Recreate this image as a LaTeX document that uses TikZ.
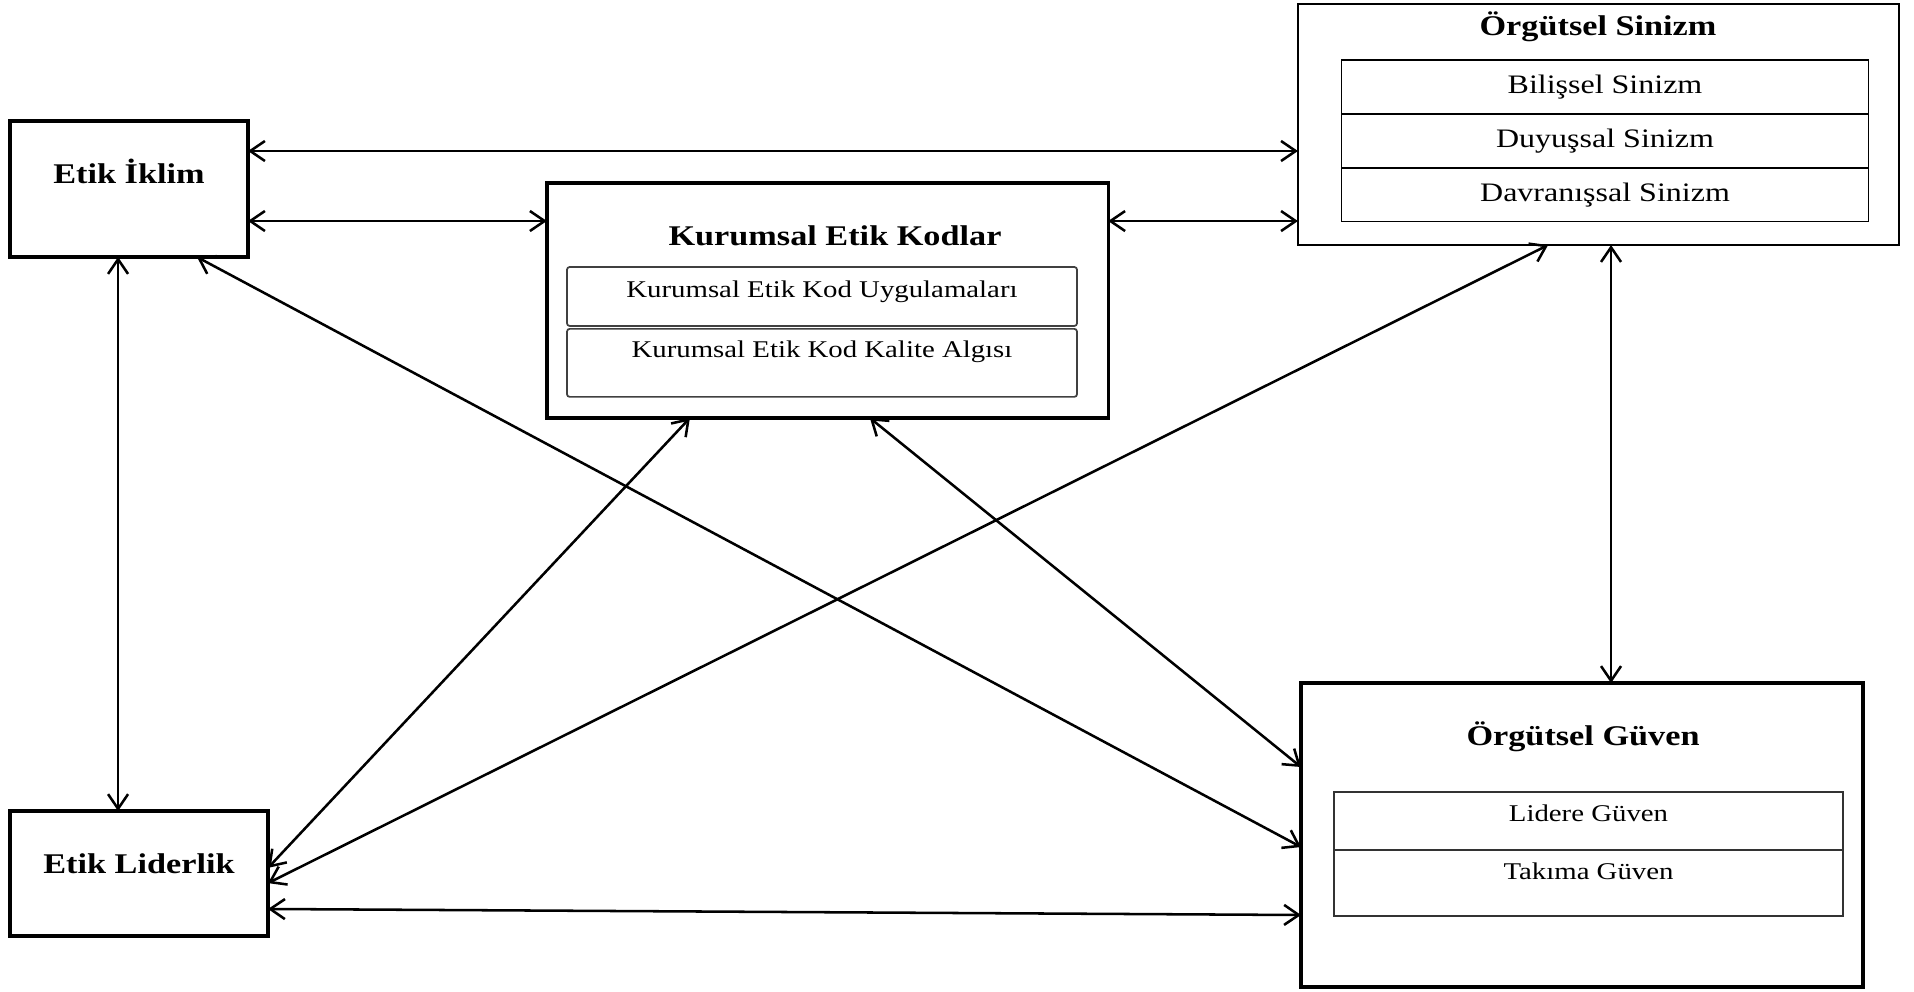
\documentclass[tikz,border=0pt]{standalone}
\usepackage{fontspec}
\setmainfont{Liberation Serif}[FakeStretch=1.2]
\usetikzlibrary{arrows.meta, positioning}

\begin{document}
\begin{tikzpicture}[
  x=0.375pt, y=-0.375pt,
  >={Straight Barb[length=5.5pt,width=7.5pt]},
  mainbox/.style={draw, line width=1.25pt, inner sep=0pt, outer sep=0pt, font=\fontsize{10.7}{13}\selectfont\bfseries},
  titletext/.style={anchor=base, inner sep=0pt, font=\fontsize{10.7}{13}\selectfont\bfseries},
  rowbox/.style={draw, line width=0.65pt, inner sep=0pt, outer sep=0pt},
  link/.style={<->, line width=0.95pt}
]
  \useasboundingbox (0,0) rectangle (1914,991);

  \node[mainbox, minimum width=89.25pt, text height=23.25pt, text depth=27.75pt] (iklim) at (129,189) {Etik İklim};
  \node[mainbox, minimum width=96.75pt, text height=23.25pt, text depth=23.6pt] (lider) at (139,873.5) {Etik Liderlik};

  \node[mainbox, minimum width=210.5pt, minimum height=88.1pt] (kod) at (827.5,300.5) {};
  \node[titletext] (kodtitle) at (835,245) {Kurumsal Etik Kodlar};
  \node[rowbox, draw=black!75, rounded corners=1pt, minimum width=191.25pt, text height=11.6pt, text depth=10.5pt,
        anchor=north, font=\fontsize{9}{11}\selectfont] (kod1) at (822,267) {Kurumsal Etik Kod Uygulamaları};
  \node[rowbox, draw=black!75, rounded corners=1pt, minimum width=191.25pt, text height=10.9pt, text depth=14.6pt,
        below=1.1pt of kod1, font=\fontsize{9}{11}\selectfont] (kod2) {Kurumsal Etik Kod Kalite Algısı};

  \node[mainbox, line width=0.8pt, minimum width=225.4pt, minimum height=90.4pt] (sinizm) at (1598.5,124.5) {};
  \node[titletext] (sintitle) at (1598,35) {Örgütsel Sinizm};
  \node[rowbox, minimum width=197.6pt, text height=12.6pt, text depth=7.6pt, anchor=north,
        font=\fontsize{10}{12}\selectfont] (sin1) at (1605,60) {Bilişsel Sinizm};
  \node[rowbox, minimum width=197.6pt, text height=12.6pt, text depth=7.6pt, below=0pt of sin1,
        font=\fontsize{10}{12}\selectfont] (sin2) {Duyuşsal Sinizm};
  \node[rowbox, minimum width=197.6pt, text height=12.6pt, text depth=7.6pt, below=0pt of sin2,
        font=\fontsize{10}{12}\selectfont] (sin3) {Davranışsal Sinizm};

  \node[mainbox, minimum width=210.75pt, minimum height=114pt] (guven) at (1582,835) {};
  \node[titletext] (guvtitle) at (1583,745) {Örgütsel Güven};
  \node[rowbox, draw=black!80, minimum width=190.9pt, text height=10.9pt, text depth=10.9pt, anchor=north,
        font=\fontsize{9}{11}\selectfont] (guv1) at (1588.5,792) {Lidere Güven};
  \node[rowbox, draw=black!80, minimum width=190.9pt, text height=10.9pt, text depth=13.9pt, below=0pt of guv1,
        font=\fontsize{9}{11}\selectfont] (guv2) {Takıma Güven};

  \draw[link] ([yshift=14.25pt]iklim.east) coordinate (a1) -- (a1 -| sinizm.west);
  \draw[link] ([yshift=-12pt]iklim.east) coordinate (a2) -- (a2 -| kod.west);
  \draw[link] ([yshift=29.8pt]kod.east) coordinate (a3) -- (a3 -| sinizm.west);
  \draw[link] ([xshift=-4.1pt]iklim.south) coordinate (a4) -- (a4 |- lider.north);
  \draw[link] ([xshift=25.5pt]iklim.south) -- ([yshift=-4.5pt]guven.west);
  \draw[link] ([xshift=-51.6pt]kod.south) -- ([yshift=2.1pt]lider.east);
  \draw[link] ([xshift=-18.9pt]sinizm.south) -- ([yshift=-3.6pt]lider.east);
  \draw[link] ([xshift=15.9pt]kod.south) -- ([yshift=25.5pt]guven.west);
  \draw[link] ([xshift=4.7pt]sinizm.south) coordinate (a5) -- (a5 |- guven.north);
  \draw[link] ([yshift=-13.3pt]lider.east) -- ([yshift=-30pt]guven.west);
\end{tikzpicture}
\end{document}
